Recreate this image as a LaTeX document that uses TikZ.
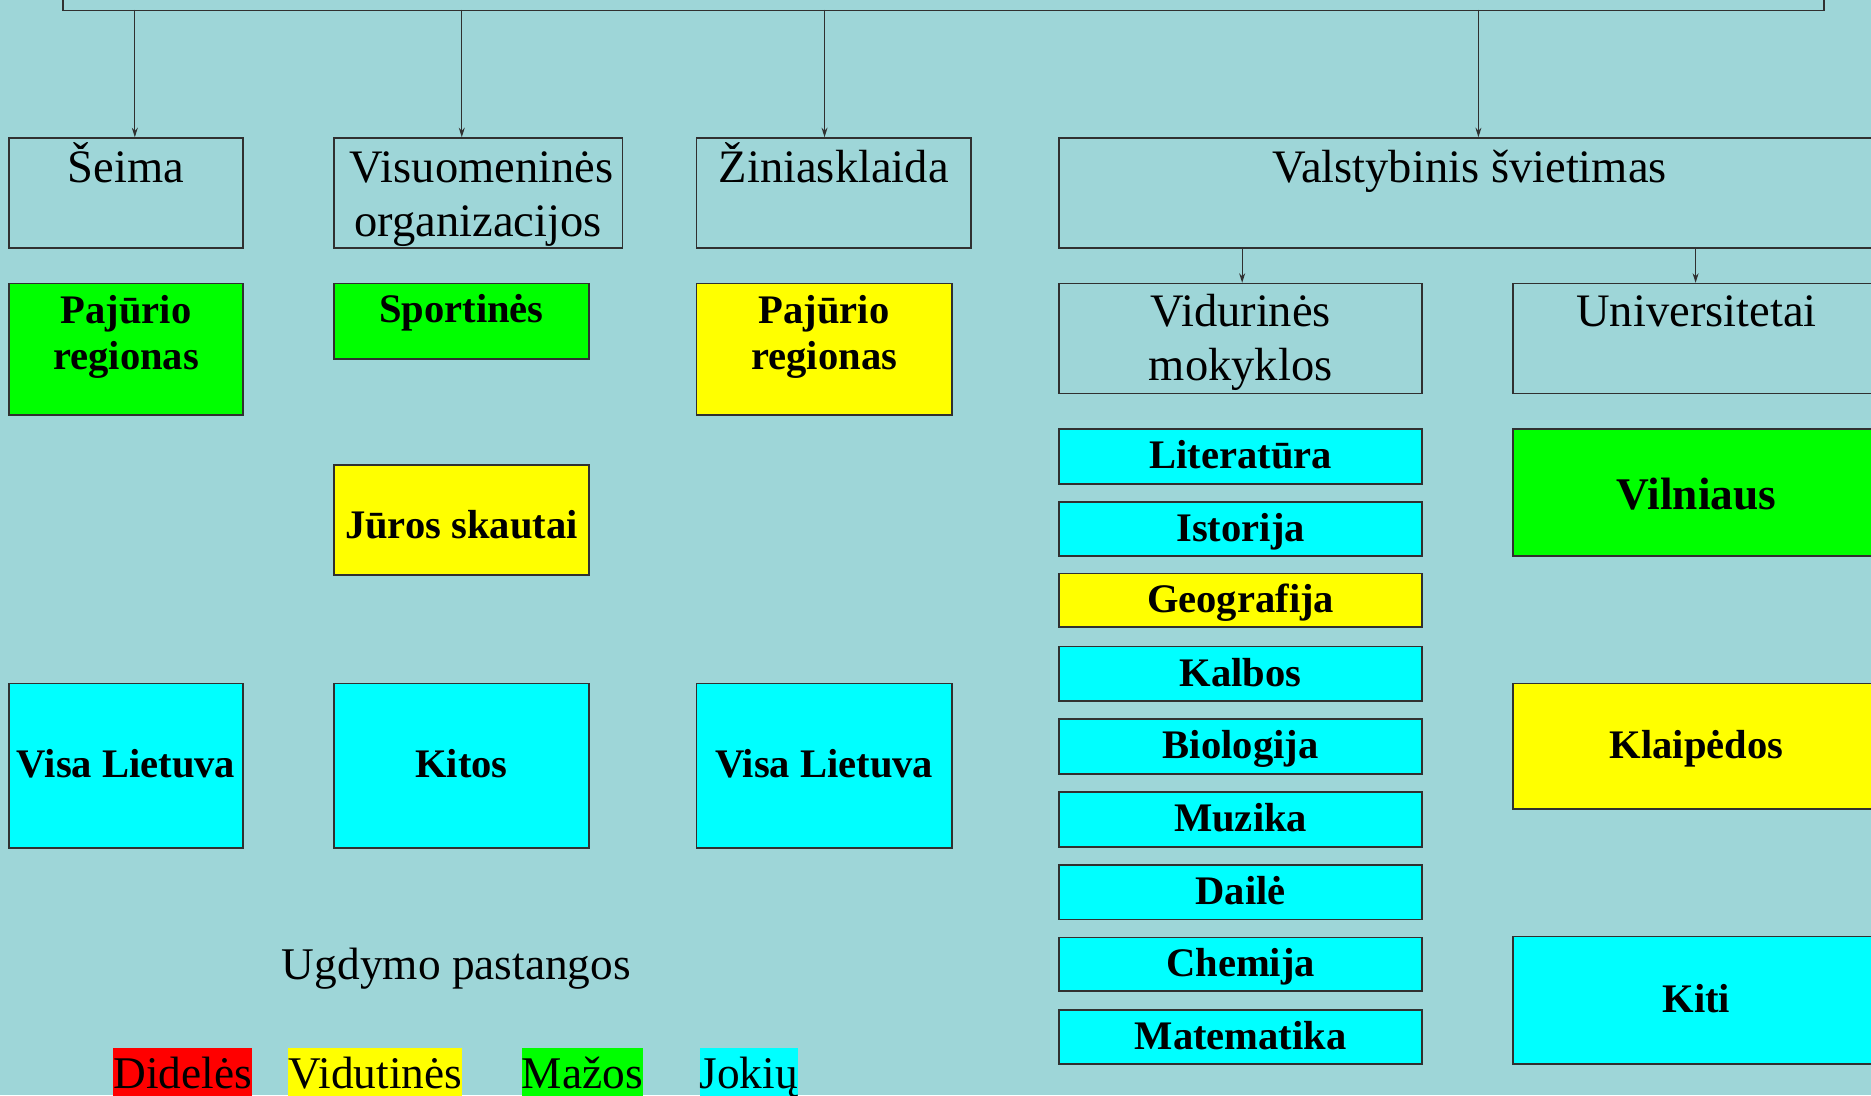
\documentclass[tikz,border=0pt]{standalone}
\usepackage{fontspec}
\setmainfont{Liberation Serif}
\usetikzlibrary{arrows.meta}
\definecolor{bg}{HTML}{9ED6D8}
\definecolor{gr}{HTML}{00FF00}
\definecolor{yl}{HTML}{FFFF00}
\definecolor{cy}{HTML}{00FFFF}
\definecolor{rd}{HTML}{FF0000}
\definecolor{ln}{HTML}{303030}
\newcommand{\mybox}[8][]{\node[box, fill=#7, minimum width=#5pt-#3pt, minimum height=#6pt-#4pt, #1] (#2) at (#3,#4) {#8};}
\begin{document}
\begin{tikzpicture}[x=1pt,y=-1pt,
  box/.style={draw=ln, line width=1.4pt, inner sep=0pt, anchor=north west,
    font=\fontsize{34}{38}\selectfont\bfseries, text height=23.8pt, text depth=3.4pt},
  hdr/.style={anchor=base, inner sep=0pt, font=\fontsize{39}{45}\selectfont},
  bld/.style={anchor=base, inner sep=0pt, font=\fontsize{34}{38}\selectfont\bfseries},
  leg/.style={anchor=base, inner xsep=0pt, inner ysep=0pt, text height=34pt, text depth=12pt,
    font=\fontsize{38}{44}\selectfont},
  arr/.style={draw=ln, line width=1.1pt, -{Stealth[length=8pt,width=5pt]}},
]
\fill[bg] (0,0) rectangle (1568,918);
\useasboundingbox (0,0) rectangle (1568,918);
\clip (0,0) rectangle (1568,918);

% top box (cut off)
\mybox{top}{52}{-40}{1528}{8}{bg}{}

% level 1
\mybox{seima}{7}{115}{203}{207}{bg}{}
\mybox{visuo}{279}{115}{521}{207}{bg}{}
\mybox{zinia}{583}{115}{813}{207}{bg}{}
\mybox{valst}{887}{115}{1575}{207}{bg}{}
\node[hdr] (tseima) at ([yshift=-38pt]seima.north) {Šeima};
\node[hdr] (tvisuo1) at ([yshift=-38pt,xshift=3pt]visuo.north) {Visuomeninės};
\node[hdr] (tvisuo2) at ([yshift=-83pt]visuo.north) {organizacijos};
\node[hdr] (tzinia) at ([yshift=-38pt]zinia.north) {Žiniasklaida};
\node[hdr] (tvalst) at ([yshift=-38pt]valst.north) {Valstybinis švietimas};

% arrows from top
\coordinate (a1) at (113,8);
\coordinate (a2) at (387,8);
\coordinate (a3) at (691,8);
\coordinate (a4) at (1239,8);
\draw[arr] (a1) -- (a1 |- seima.north);
\draw[arr] (a2) -- (a2 |- visuo.north);
\draw[arr] (a3) -- (a3 |- zinia.north);
\draw[arr] (a4) -- (a4 |- valst.north);

% level 2 under Valstybinis
\mybox{vidur}{887}{237}{1191}{329}{bg}{}
\mybox{univ}{1267}{237}{1575}{329}{bg}{}
\node[hdr] (tvidur1) at ([yshift=-37pt]vidur.north) {Vidurinės};
\node[hdr] (tvidur2) at ([yshift=-81.5pt]vidur.north) {mokyklos};
\node[hdr] (tuniv) at ([yshift=-37pt]univ.north) {Universitetai};
\coordinate (b1) at (1041,207);
\coordinate (b2) at (1421,207);
\draw[arr] (b1) -- (b1 |- vidur.north);
\draw[arr] (b2) -- (b2 |- univ.north);

% left columns
\mybox{paj1}{7}{237}{203}{347}{gr}{}
\node[bld] (tpaj1a) at ([yshift=-34.5pt]paj1.north) {Pajūrio};
\node[bld] (tpaj1b) at ([yshift=-73pt]paj1.north) {regionas};
\mybox{sport}{279}{237}{493}{300}{gr}{}
\node[bld] (tsport) at ([yshift=-33pt]sport.north) {Sportinės};
\mybox{paj2}{583}{237}{797}{347}{yl}{}
\node[bld] (tpaj2a) at ([yshift=-34.5pt]paj2.north) {Pajūrio};
\node[bld] (tpaj2b) at ([yshift=-73pt]paj2.north) {regionas};
\mybox{juros}{279}{389}{493}{481}{yl}{}
\node[bld] (tjuros) at ([yshift=-62pt]juros.north) {Jūros skautai};

\mybox{visa1}{7}{572}{203}{710}{cy}{Visa Lietuva}
\mybox{kitos}{279}{572}{493}{710}{cy}{Kitos}
\mybox{visa2}{583}{572}{797}{710}{cy}{Visa Lietuva}

% subjects
\mybox{lit}{887}{359}{1191}{405}{cy}{Literatūra}
\mybox{ist}{887}{420}{1191}{465}{cy}{Istorija}
\mybox{geo}{887}{480}{1191}{525}{yl}{Geografija}
\mybox{kal}{887}{541}{1191}{587}{cy}{Kalbos}
\mybox{bio}{887}{602}{1191}{648}{cy}{Biologija}
\mybox{muz}{887}{663}{1191}{709}{cy}{Muzika}
\mybox{dai}{887}{724}{1191}{770}{cy}{Dailė}
\mybox{che}{887}{785}{1191}{830}{cy}{Chemija}
\mybox{mat}{887}{846}{1191}{891}{cy}{Matematika}

% universities
\mybox[font=\fontsize{38}{42}\selectfont\bfseries, text height=28pt, text depth=0pt]{vil}{1267}{359}{1575}{465}{gr}{Vilniaus}
\mybox{kla}{1267}{572}{1575}{677}{yl}{Klaipėdos}
\mybox{kiti}{1267}{784}{1575}{891}{cy}{Kiti}

% legend
\node[anchor=base, inner sep=0pt, font=\fontsize{38}{44}\selectfont] (ugd) at (382.5,821) {Ugdymo pastangos};
\node[leg, fill=rd] (l1) at (153,912) {Didelės};
\node[leg, fill=yl] (l2) at (314.5,912) {Vidutinės};
\node[leg, fill=gr] (l3) at (488,912) {Mažos};
\node[leg, fill=cy] (l4) at (627.5,912) {Jokių};
\end{tikzpicture}
\end{document}
